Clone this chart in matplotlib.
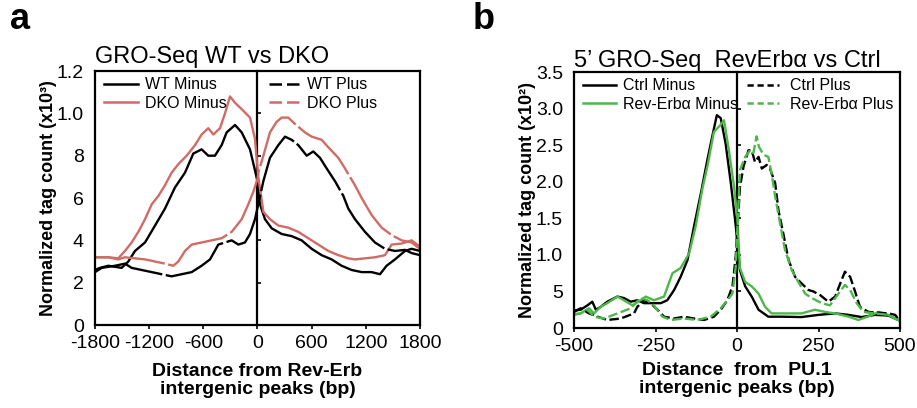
import matplotlib
matplotlib.use('Agg')
import matplotlib.pyplot as plt
from matplotlib.lines import Line2D

plt.rcParams.update({
    'font.family': ['Liberation Sans', 'DejaVu Sans'],
    'font.size': 12,
    'axes.linewidth': 1.6,
})

RED = '#d06b66'
GREEN = '#4cb848'

# ---- panel a: GRO-Seq WT vs DKO (x in bp, y in x10^3) ----
wt_minus_x = [-1800, -1745, -1652, -1505, -1431, -1357, -1246, -1135, -1025, -914, -803, -711,
              -619, -545, -471, -397, -342, -249, -175, -83, 0, 28, 83, 157, 268, 378, 489,
              600, 711, 821, 932, 1043, 1154, 1264, 1357, 1430, 1523, 1634, 1707, 1800]
wt_minus_y = [0.26, 0.27, 0.28, 0.27, 0.30, 0.35, 0.39, 0.47, 0.55, 0.65, 0.72, 0.81,
              0.83, 0.80, 0.80, 0.85, 0.91, 0.945, 0.91, 0.83, 0.68, 0.57, 0.50, 0.457, 0.43, 0.42, 0.40,
              0.36, 0.33, 0.31, 0.28, 0.26, 0.25, 0.25, 0.24, 0.28, 0.31, 0.35, 0.36, 0.35]

wt_plus_x = [-1800, -1726, -1578, -1468, -1394, -1283, -1172, -1062, -951, -840, -729, -619,
             -526, -434, -360, -286, -212, -139, -83, -28, 9, 65, 138, 231, 305, 378, 452,
             545, 618, 692, 766, 858, 951, 1006, 1080, 1191, 1301, 1412, 1523, 1634, 1707, 1800]
wt_plus_y = [0.25, 0.27, 0.28, 0.29, 0.27, 0.26, 0.25, 0.24, 0.23, 0.24, 0.25, 0.28,
             0.31, 0.38, 0.39, 0.40, 0.38, 0.39, 0.43, 0.50, 0.57, 0.68, 0.79, 0.85, 0.89, 0.875, 0.85,
             0.80, 0.82, 0.79, 0.74, 0.68, 0.61, 0.55, 0.50, 0.44, 0.39, 0.36, 0.35, 0.355, 0.34, 0.33]

dko_minus_x = [-1800, -1763, -1652, -1542, -1468, -1394, -1320, -1246, -1172, -1098, -1025, -951,
               -877, -785, -692, -619, -545, -489, -415, -360, -305, -249, -175, -83, -28, 9,
               65, 138, 231, 341, 452, 563, 674, 784, 895, 1006, 1080, 1191, 1301, 1412, 1486,
               1597, 1707, 1800]
dko_minus_y = [0.32, 0.32, 0.32, 0.315, 0.35, 0.39, 0.44, 0.50, 0.57, 0.61, 0.66, 0.72,
               0.76, 0.80, 0.85, 0.90, 0.93, 0.90, 0.93, 1.00, 1.08, 1.05, 1.02, 0.98, 0.88, 0.70,
               0.535, 0.50, 0.47, 0.46, 0.44, 0.41, 0.38, 0.35, 0.33, 0.315, 0.31, 0.315, 0.32, 0.33, 0.38,
               0.385, 0.40, 0.37]

dko_plus_x = [-1800, -1763, -1652, -1542, -1468, -1357, -1246, -1135, -1025, -932, -877, -803,
              -729, -619, -508, -397, -286, -175, -102, -46, 0, 9, 65, 138, 212, 268, 341, 415,
              526, 600, 711, 784, 895, 969, 1080, 1154, 1264, 1375, 1486, 1597, 1707, 1800]
dko_plus_y = [0.32, 0.32, 0.32, 0.31, 0.32, 0.315, 0.31, 0.30, 0.29, 0.28, 0.30, 0.35,
              0.38, 0.39, 0.40, 0.41, 0.44, 0.50, 0.57, 0.63, 0.69, 0.72, 0.80, 0.91, 0.96, 0.98, 0.98, 0.95,
              0.91, 0.89, 0.875, 0.84, 0.79, 0.74, 0.66, 0.60, 0.52, 0.46, 0.425, 0.40, 0.39, 0.36]

a_xticks = [-1800, -1200, -600, 0, 600, 1200, 1800]
a_yticks = [0, 0.2, 0.4, 0.6, 0.8, 1.0, 1.2]
a_yticklabels = ['0', '2', '4', '6', '8', '1.0', '1.2']

# ---- panel b: 5' GRO-Seq RevErba vs Ctrl (x in bp, y in x10^2) ----
ctrl_minus_x = [-500, -480, -459, -444, -433, -418, -398, -367, -347, -326, -306, -285, -265,
                -234, -214, -193, -173, -152, -132, -111, -91, -76, -62, -50, -35, -19, -4,
                9, 25, 45, 66, 96, 137, 198, 250, 301, 342, 382, 423, 464, 495, 500]
ctrl_minus_y = [0.24, 0.25, 0.31, 0.36, 0.25, 0.29, 0.36, 0.43, 0.41, 0.36, 0.38, 0.34, 0.34,
                0.34, 0.38, 0.52, 0.70, 0.93, 1.39, 1.84, 2.30, 2.62, 2.91, 2.87, 2.52, 1.98, 1.40,
                0.79, 0.57, 0.43, 0.25, 0.155, 0.155, 0.15, 0.18, 0.20, 0.18, 0.15, 0.18, 0.17, 0.11, 0.10]

rev_minus_x = [-500, -480, -454, -439, -418, -398, -367, -347, -321, -296, -280, -255, -224,
               -198, -173, -147, -127, -106, -91, -71, -50, -40, -25, -9, 1,
               9, 25, 45, 66, 86, 106, 147, 198, 239, 270, 301, 342, 372, 403, 434, 464, 495, 500]
rev_minus_y = [0.19, 0.20, 0.27, 0.20, 0.29, 0.34, 0.43, 0.38, 0.31, 0.38, 0.43, 0.38, 0.43,
               0.75, 0.82, 1.02, 1.39, 1.91, 2.21, 2.68, 2.78, 2.84, 2.43, 1.93, 1.50,
               0.82, 0.63, 0.57, 0.47, 0.29, 0.20, 0.20, 0.20, 0.25, 0.22, 0.20, 0.155, 0.11, 0.16, 0.22,
               0.18, 0.11, 0.10]

ctrl_plus_x = [-500, -480, -454, -428, -398, -357, -316, -306, -285, -265, -244, -224, -193,
               -163, -132, -101, -71, -50, -30, -14, -4, 9, 20, 35, 45, 55, 66, 76, 91, 101,
               117, 127, 142, 158, 178, 198, 219, 234, 255, 280, 301, 321, 331, 347, 362, 377,
               403, 434, 464, 485, 500]
ctrl_plus_y = [0.22, 0.27, 0.20, 0.155, 0.11, 0.13, 0.20, 0.29, 0.38, 0.34, 0.25, 0.155, 0.13,
               0.155, 0.13, 0.11, 0.155, 0.25, 0.38, 0.57, 0.98, 1.93, 2.21, 2.43, 2.43, 2.27, 2.34,
               2.18, 2.23, 2.18, 1.98, 1.61, 1.29, 0.93, 0.70, 0.61, 0.52, 0.50, 0.45, 0.36, 0.43,
               0.66, 0.77, 0.70, 0.50, 0.29, 0.22, 0.21, 0.20, 0.18, 0.09]

rev_plus_x = [-500, -480, -459, -439, -408, -367, -326, -296, -275, -255, -229, -203, -163,
              -122, -81, -50, -30, -14, -4, 9, 25, 40, 50, 60, 67, 81, 96, 106, 117, 132, 147,
              168, 188, 209, 229, 260, 285, 311, 331, 347, 367, 388, 423, 464, 500]
rev_plus_y = [0.18, 0.20, 0.25, 0.155, 0.13, 0.20, 0.27, 0.41, 0.38, 0.31, 0.155, 0.11, 0.13,
              0.11, 0.155, 0.27, 0.38, 0.47, 0.84, 2.16, 2.34, 2.43, 2.39, 2.62, 2.48, 2.37, 2.34,
              2.11, 1.80, 1.43, 1.07, 0.79, 0.63, 0.47, 0.41, 0.34, 0.31, 0.47, 0.59, 0.52, 0.34,
              0.22, 0.20, 0.18, 0.09]

b_xticks = [-500, -250, 0, 250, 500]
b_yticks = [0, 0.5, 1.0, 1.5, 2.0, 2.5, 3.0, 3.5]
b_yticklabels = ['0', '5', '1.0', '1.5', '2.0', '2.5', '3.0', '3.5']


def estilo_ejes(ax, xticks, yticks, yticklabels, xlim, ylim):
    ax.set_xlim(*xlim)
    ax.set_ylim(*ylim)
    ax.set_xticks(xticks)
    ax.set_xticklabels([str(t) for t in xticks])
    ax.set_yticks(yticks)
    ax.set_yticklabels(yticklabels)
    ax.tick_params(axis='y', length=0, pad=8, labelsize=14)
    ax.tick_params(axis='x', direction='out', length=3, width=1.2, pad=4, labelsize=14)
    # linea central con marcas
    centro = ax.secondary_yaxis(0.5)
    centro.set_yticks(yticks)
    centro.set_yticklabels([])
    centro.tick_params(direction='out', length=3, width=1.2)
    centro.spines['left'].set_linewidth(1.5)


fig = plt.figure(figsize=(9.17, 4.08), dpi=100)

# ---------------- panel a ----------------
ax1 = fig.add_axes([0.1036, 0.2034, 0.3544, 0.6225])
ax1.plot(wt_minus_x, wt_minus_y, color='black', lw=1.7)
ax1.plot(dko_minus_x, dko_minus_y, color=RED, lw=1.7)
ax1.plot(wt_plus_x, wt_plus_y, color='black', lw=1.7, dashes=(30, 1.5))
ax1.plot(dko_plus_x, dko_plus_y, color=RED, lw=1.7, dashes=(30, 1.5))
estilo_ejes(ax1, a_xticks, a_yticks, a_yticklabels, (-1800, 1800), (0, 1.2))

ax1.set_ylabel('Normalized tag count (x10³)', fontsize=13, fontweight='bold', labelpad=0)
ax1.set_xlabel('Distance from Rev-Erb\nintergenic peaks (bp)', fontsize=14,
               fontweight='bold', labelpad=8, linespacing=1.1)
ax1.text(0, 1.031, 'GRO-Seq WT vs DKO', transform=ax1.transAxes, fontsize=17,
         ha='left', va='baseline')

h_minus = [Line2D([], [], color='black', lw=1.8), Line2D([], [], color=RED, lw=1.8)]
h_plus = [Line2D([], [], color='black', lw=1.8, dashes=(5, 2)),
          Line2D([], [], color=RED, lw=1.8, dashes=(5, 2))]
leg1 = ax1.legend(h_minus, ['WT Minus', 'DKO Minus'], loc='upper left',
                  bbox_to_anchor=(0.028, 0.975), frameon=False, fontsize=11.5,
                  borderpad=0, borderaxespad=0, handlelength=2.1, handletextpad=0.45,
                  labelspacing=0.2)
ax1.add_artist(leg1)
ax1.legend(h_plus, ['WT Plus', 'DKO Plus'], loc='upper left',
           bbox_to_anchor=(0.535, 0.975), frameon=False, fontsize=11.5,
           borderpad=0, borderaxespad=0, handlelength=2.1, handletextpad=0.3,
           labelspacing=0.2)

# ---------------- panel b ----------------
ax2 = fig.add_axes([0.626, 0.196, 0.3555, 0.6275])
ax2.plot(ctrl_minus_x, ctrl_minus_y, color='black', lw=1.7)
ax2.plot(rev_minus_x, rev_minus_y, color=GREEN, lw=1.7)
ax2.plot(ctrl_plus_x, ctrl_plus_y, color='black', lw=1.7, dashes=(4, 1.5))
ax2.plot(rev_plus_x, rev_plus_y, color=GREEN, lw=1.7, dashes=(4, 1.5))
estilo_ejes(ax2, b_xticks, b_yticks, b_yticklabels, (-500, 500), (0, 3.5))

ax2.set_ylabel('Normalized tag count (x10²)', fontsize=13, fontweight='bold', labelpad=0)
ax2.set_xlabel('Distance  from  PU.1\nintergenic peaks (bp)', fontsize=14,
               fontweight='bold', labelpad=5, linespacing=1.1)
ax2.text(0, 1.021, '5’ GRO-Seq  RevErbα vs Ctrl', transform=ax2.transAxes, fontsize=17,
         ha='left', va='baseline')

h_minus_b = [Line2D([], [], color='black', lw=1.8), Line2D([], [], color=GREEN, lw=1.8)]
h_plus_b = [Line2D([], [], color='black', lw=1.8, dashes=(2.5, 1.5)),
            Line2D([], [], color=GREEN, lw=1.8, dashes=(2.5, 1.5))]
leg2 = ax2.legend(h_minus_b, ['Ctrl Minus', 'Rev-Erbα Minus'], loc='upper left',
                  bbox_to_anchor=(0.026, 0.975), frameon=False, fontsize=11.5,
                  borderpad=0, borderaxespad=0, handlelength=2.1, handletextpad=0.45,
                  labelspacing=0.2)
ax2.add_artist(leg2)
ax2.legend(h_plus_b, ['Ctrl Plus', 'Rev-Erbα Plus'], loc='upper left',
           bbox_to_anchor=(0.53, 0.975), frameon=False, fontsize=11.5,
           borderpad=0, borderaxespad=0, handlelength=2.0, handletextpad=0.7,
           labelspacing=0.2)

# letras de panel
fig.text(0.011, 0.93, 'a', fontsize=26, fontweight='bold', ha='left', va='baseline')
fig.text(0.515, 0.93, 'b', fontsize=26, fontweight='bold', ha='left', va='baseline')

fig.savefig('out.png', dpi=100, facecolor='white')
